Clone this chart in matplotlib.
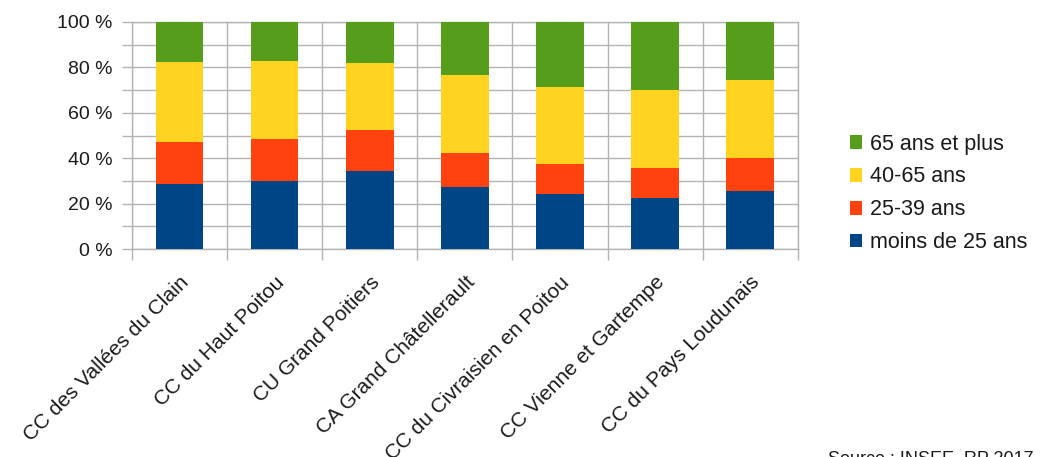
import matplotlib
matplotlib.use("Agg")
import matplotlib.pyplot as plt
import numpy as np

plt.rcParams['font.family'] = ['Liberation Sans', 'DejaVu Sans']

categories = [
    "CC des Vallées du Clain",
    "CC du Haut Poitou",
    "CU Grand Poitiers",
    "CA Grand Châtellerault",
    "CC du Civraisien en Poitou",
    "CC Vienne et Gartempe",
    "CC du Pays Loudunais",
]
moins_25 = [28.8, 30.1, 34.2, 27.2, 24.1, 22.5, 25.4]
ans_25_39 = [18.3, 18.4, 18.4, 15.1, 13.3, 13.3, 14.7]
ans_40_65 = [35.4, 34.2, 29.5, 34.4, 33.8, 34.2, 34.5]
ans_65_plus = [17.5, 17.3, 17.9, 23.3, 28.8, 30.0, 25.4]

series = [
    ("moins de 25 ans", moins_25, "#004586"),
    ("25-39 ans", ans_25_39, "#ff420e"),
    ("40-65 ans", ans_40_65, "#ffd320"),
    ("65 ans et plus", ans_65_plus, "#579d1c"),
]

text_col = "#1a1a1a"
fig = plt.figure(figsize=(10.4, 4.57), dpi=100)
ax = fig.add_axes([0.127, 0.455, 0.640, 0.497])

x = np.arange(len(categories))
bottom = np.zeros(len(categories))
handles = []
for name, vals, col in series:
    vals = np.array(vals)
    h = ax.bar(x, vals, width=0.5, bottom=bottom, color=col, label=name, zorder=3)
    handles.append(h)
    bottom += vals

grid_col = "#b3b3b3"
ax.set_xlim(-0.5, len(categories) - 0.5)
ax.set_ylim(0, 100)
ax.set_yticks(np.arange(0, 101, 20))
ax.set_yticks(np.arange(10, 100, 20), minor=True)
ax.set_yticklabels([f"{v} %" for v in range(0, 101, 20)], fontsize=14, color=text_col)
ax.tick_params(axis='y', which='both', length=7, color=grid_col, width=1, pad=7)
ax.grid(axis='y', which='both', color=grid_col, linewidth=1, zorder=0)

# vertical separators between categories
bounds = np.arange(-0.5, len(categories), 1.0)
for b in bounds:
    ax.axvline(b, color=grid_col, linewidth=1, zorder=0)
ax.set_xticks(bounds, minor=True)
ax.tick_params(axis='x', which='minor', length=8, color=grid_col, width=1)
ax.set_xticks(x)
ax.set_xticklabels(categories, rotation=45, ha='right', rotation_mode='anchor',
                   fontsize=15, color=text_col)
ax.tick_params(axis='x', which='major', length=0, pad=17)

for s in ax.spines.values():
    s.set_color(grid_col)
    s.set_linewidth(1)

leg = ax.legend(handles[::-1], [s[0] for s in series][::-1],
                loc='center left', bbox_to_anchor=(1.065, 0.245), frameon=False,
                fontsize=15.5, handlelength=0.6, handleheight=0.6, handletextpad=0.35,
                labelspacing=0.55, borderaxespad=0)
for t in leg.get_texts():
    t.set_color(text_col)

fig.text(0.994, 1 - 451 / 457, "Source : INSEE, RP 2017", ha='right', va='top',
         fontsize=13, color=text_col)

fig.savefig("out.png", dpi=100)
